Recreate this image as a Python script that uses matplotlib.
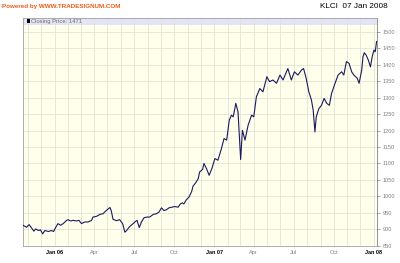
import matplotlib
matplotlib.use("Agg")
import matplotlib.pyplot as plt
import matplotlib.dates as mdates
from matplotlib.patches import Rectangle
import pandas as pd

plt.rcParams['font.family'] = ['Liberation Sans', 'DejaVu Sans']

# KLCI closing prices
dates = ["2005-10-20", "2005-10-28", "2005-11-03", "2005-11-08", "2005-11-14", "2005-11-18",
         "2005-11-24", "2005-11-29", "2005-12-04", "2005-12-09", "2005-12-17", "2005-12-24",
         "2005-12-29", "2006-01-03", "2006-01-08", "2006-01-14", "2006-01-20", "2006-01-24",
         "2006-01-28", "2006-01-31", "2006-02-06", "2006-02-12", "2006-02-19", "2006-02-25",
         "2006-03-03", "2006-03-10", "2006-03-18", "2006-03-26", "2006-03-29", "2006-04-06",
         "2006-04-14", "2006-04-21", "2006-04-27", "2006-05-03", "2006-05-07", "2006-05-10",
         "2006-05-14", "2006-05-22", "2006-05-29", "2006-06-05", "2006-06-10", "2006-06-14",
         "2006-06-21", "2006-06-29", "2006-07-03", "2006-07-08", "2006-07-13", "2006-07-18",
         "2006-07-24", "2006-07-31", "2006-08-06", "2006-08-14", "2006-08-21", "2006-08-27",
         "2006-09-02", "2006-09-07", "2006-09-13", "2006-09-19", "2006-09-25", "2006-10-02",
         "2006-10-10", "2006-10-15", "2006-10-20", "2006-10-23", "2006-10-29", "2006-11-04",
         "2006-11-10", "2006-11-13", "2006-11-19", "2006-11-25", "2006-11-28", "2006-12-05",
         "2006-12-08", "2006-12-14", "2006-12-20", "2006-12-26", "2007-01-02", "2007-01-09",
         "2007-01-17", "2007-01-23", "2007-01-29", "2007-02-04", "2007-02-09", "2007-02-13",
         "2007-02-19", "2007-02-24", "2007-03-02", "2007-03-06", "2007-03-12", "2007-03-19",
         "2007-03-27", "2007-04-01", "2007-04-07", "2007-04-15", "2007-04-22", "2007-05-01",
         "2007-05-07", "2007-05-15", "2007-05-23", "2007-05-31", "2007-06-07", "2007-06-18",
         "2007-06-26", "2007-07-03", "2007-07-11", "2007-07-19", "2007-07-24", "2007-07-30",
         "2007-08-05", "2007-08-11", "2007-08-15", "2007-08-19", "2007-08-22", "2007-08-28",
         "2007-09-03", "2007-09-09", "2007-09-15", "2007-09-21", "2007-09-26", "2007-10-04",
         "2007-10-11", "2007-10-19", "2007-10-24", "2007-10-30", "2007-11-05", "2007-11-11",
         "2007-11-16", "2007-11-24", "2007-11-28", "2007-12-04", "2007-12-07", "2007-12-10",
         "2007-12-14", "2007-12-19", "2007-12-24", "2007-12-28", "2008-01-01", "2008-01-04",
         "2008-01-07"]
closes = [912, 906, 914, 905, 894, 901,
          896, 898, 886, 896, 893, 896,
          893, 906, 917, 912, 917, 922,
          927, 929, 925, 927, 925, 927,
          917, 922, 922, 927, 937, 939,
          945, 947, 955, 962, 966, 956,
          930, 926, 929, 917, 891, 896,
          908, 917, 922, 927, 905, 922,
          935, 937, 937, 945, 947, 952,
          965, 957, 959, 965, 967, 969,
          967, 977, 980, 977, 990, 998,
          1015, 1031, 1041, 1054, 1074, 1082,
          1100, 1084, 1064, 1084, 1115, 1110,
          1145, 1176, 1171, 1232, 1247, 1242,
          1283, 1257, 1112, 1201, 1171, 1216,
          1247, 1242, 1303, 1328, 1318, 1364,
          1349, 1354, 1344, 1369, 1354, 1389,
          1354, 1379, 1369, 1384, 1389, 1359,
          1318, 1293, 1262, 1196, 1242, 1267,
          1277, 1298, 1283, 1277, 1313, 1344,
          1369, 1379, 1369, 1410, 1405, 1379,
          1369, 1359, 1344, 1384, 1425, 1437,
          1430, 1415, 1394, 1425, 1445, 1440,
          1471]
x_ticks = ["2006-01-01", "2006-04-01", "2006-07-01", "2006-10-01", "2007-01-01",
           "2007-04-01", "2007-07-01", "2007-10-01", "2008-01-01"]
x_labels = ["Jan 06", "Apr", "Jul", "Oct", "Jan 07", "Apr", "Jul", "Oct", "Jan 08"]
y_ticks = list(range(850, 1501, 50))

d = pd.to_datetime(dates)

fig = plt.figure(figsize=(4, 2.63), dpi=100)
ax = fig.add_axes([0.0575, 0.066, 0.885, 0.866])
ax.set_facecolor('#ffffeb')

ax.plot(d, closes, color='#1a1a5e', lw=0.8, zorder=3)

ax.set_xlim(pd.Timestamp("2005-10-20"), pd.Timestamp("2008-01-08"))
ax.set_ylim(850, 1543)

# monthly vertical grid, 50-point horizontal grid
ax.xaxis.set_minor_locator(mdates.MonthLocator())
ax.set_xticks(pd.to_datetime(x_ticks))
ax.set_xticklabels(x_labels)
for lab, txt in zip(ax.get_xticklabels(), x_labels):
    if txt.startswith("Jan"):
        lab.set_fontweight('bold')
        lab.set_color('black')
    else:
        lab.set_color('#808080')
ax.set_yticks(y_ticks)
ax.yaxis.tick_right()
ax.grid(which='both', color='#e2e2d6', lw=0.6, zorder=0)
ax.tick_params(axis='x', which='both', length=0, labelsize=4.0, pad=3)
ax.tick_params(axis='y', length=2.5, width=0.5, color='#808080', labelsize=4.1,
               labelcolor='#808080', pad=1.5)
for s in ax.spines.values():
    s.set_color('#a0a0a0')
    s.set_linewidth(0.6)
ax.spines['right'].set_color('#808080')

# legend band at the top
ax.add_patch(Rectangle((0, 1 - 7 / 227), 1, 7 / 227, transform=ax.transAxes,
                       facecolor='#e4e4f8', edgecolor='none', zorder=1))
ax.add_patch(Rectangle((0.011, 1 - 5.5 / 227), 0.0085, 4 / 227, transform=ax.transAxes,
                       facecolor='black', edgecolor='none', zorder=4))
ax.text(0.024, 1 - 3.6 / 227, "Closing Price: %d" % closes[-1], transform=ax.transAxes,
        fontsize=4.2, color='#707070', va='center', ha='left', zorder=4)

fig.text(0.005, 0.985, "Powered by WWW.TRADESIGNUM.COM", color='#f05a14',
         fontsize=4.5, fontweight='bold', va='top', ha='left')
fig.text(0.97, 0.99, "KLCI  07 Jan 2008", color='black', fontsize=5.9,
         va='top', ha='right')

fig.savefig('out.png', dpi=100)
